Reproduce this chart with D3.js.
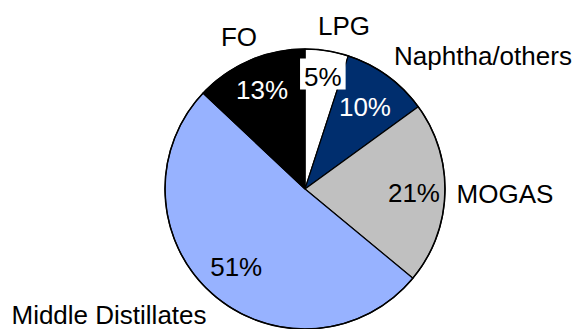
<!DOCTYPE html>
<html>
<head>
<meta charset="utf-8">
<script src="https://cdn.jsdelivr.net/npm/d3@7"></script>
<style>
  html, body { margin: 0; padding: 0; background: #fff; }
  svg { display: block; }
  text { font-family: "Liberation Sans", Arial, sans-serif; }
</style>
</head>
<body>
<svg id="chart" width="580" height="329"></svg>
<script>
// Product shares, clockwise from 12 o'clock
const categories = ["LPG", "Naphtha/others", "MOGAS", "Middle Distillates", "FO"];
const shares = [5, 10, 21, 51, 13];
const sliceColors = ["#ffffff", "#002e6e", "#c0c0c0", "#97b2ff", "#000000"];
const valueColors = ["#000000", "#ffffff", "#000000", "#000000", "#ffffff"];

const width = 580, height = 329;
const cx = 305, cy = 189, radius = 140;
const fontSize = 26;

// radius at which each percentage sits, and baseline offsets of category names from the centre
const valueRadius = [114, 102, 109, 104, 108];
const nameOffsets = [[39, -154], [178, -124], [200, 14], [-196, 135], [-66, -143]];

const svg = d3.select("#chart");
const g = svg.append("g").attr("transform", `translate(${cx},${cy})`);

const data = categories.map((c, i) => ({ name: c, value: shares[i], i }));
const pie = d3.pie().value(d => d.value).sort(null);
const arcs = pie(data);
const arc = d3.arc().innerRadius(0).outerRadius(radius);

g.selectAll("path.slice")
  .data(arcs)
  .join("path")
  .attr("class", "slice")
  .attr("d", arc)
  .attr("fill", d => sliceColors[d.data.i])
  .attr("stroke", "#000")
  .attr("stroke-width", 1.2)
  .attr("stroke-linejoin", "round");

// outer rim
g.append("circle")
  .attr("r", radius)
  .attr("fill", "none")
  .attr("stroke", "#000")
  .attr("stroke-width", 1.5);

// percentage labels
arcs.forEach(d => {
  const i = d.data.i;
  const a = (d.startAngle + d.endAngle) / 2;
  const r = valueRadius[i];
  const x = r * Math.sin(a);
  const y = -r * Math.cos(a);
  const lg = g.append("g");
  const t = lg.append("text")
    .attr("x", x)
    .attr("y", y)
    .attr("dy", "0.35em")
    .attr("text-anchor", "middle")
    .attr("font-size", fontSize)
    .attr("fill", valueColors[i])
    .text(d.data.value + "%");
  if (i === 0) {
    const b = t.node().getBBox();
    lg.insert("rect", "text")
      .attr("x", b.x - 4)
      .attr("y", b.y - 3)
      .attr("width", b.width + 8)
      .attr("height", b.height + 1)
      .attr("fill", "#ffffff");
  }
});

// category names (y is the text baseline)
g.selectAll("text.name")
  .data(data)
  .join("text")
  .attr("class", "name")
  .attr("x", d => nameOffsets[d.i][0])
  .attr("y", d => nameOffsets[d.i][1])
  .attr("text-anchor", "middle")
  .attr("font-size", fontSize)
  .attr("fill", "#000")
  .text(d => d.name);
</script>
</body>
</html>
